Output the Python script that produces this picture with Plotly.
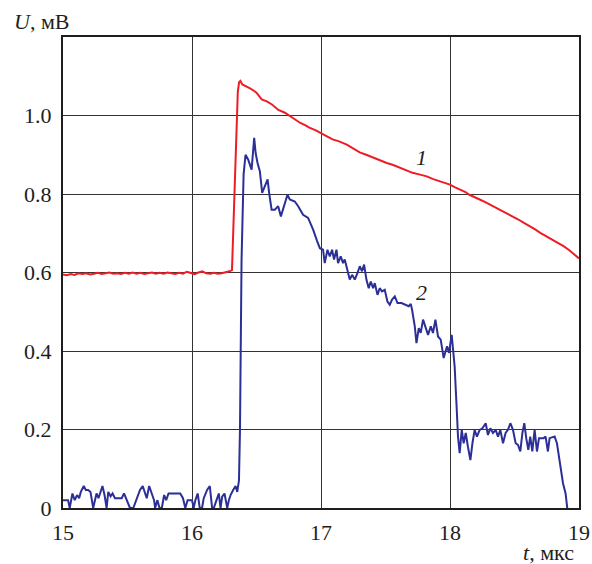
import plotly.graph_objects as go

# Curve 1 (red)
t1 = [15.00, 15.03, 15.06, 15.09, 15.12, 15.15, 15.18, 15.21, 15.24, 15.27, 15.30, 15.33, 15.36, 15.39,
      15.42, 15.45, 15.48, 15.51, 15.54, 15.57, 15.60, 15.63, 15.66, 15.69, 15.72, 15.75, 15.78, 15.81,
      15.84, 15.87, 15.90, 15.93, 15.96, 15.99, 16.02, 16.05, 16.08, 16.11, 16.14, 16.17, 16.20, 16.23,
      16.26, 16.29, 16.31, 16.325, 16.34, 16.355, 16.365, 16.375, 16.39, 16.42, 16.45, 16.48, 16.50,
      16.54, 16.58, 16.62, 16.67, 16.72, 16.76, 16.80, 16.84, 16.88, 16.91, 16.96, 17.00, 17.05, 17.09,
      17.14, 17.20, 17.25, 17.30, 17.35, 17.40, 17.45, 17.51, 17.56, 17.61, 17.66, 17.71, 17.76, 17.82,
      17.87, 17.92, 17.96, 18.00, 18.04, 18.08, 18.12, 18.15, 18.19, 18.23, 18.27, 18.31, 18.36, 18.40,
      18.44, 18.49, 18.53, 18.57, 18.62, 18.66, 18.70, 18.75, 18.79, 18.83, 18.88, 18.92, 18.95, 18.97, 19.00]
u1 = [0.595, 0.593, 0.596, 0.594, 0.598, 0.596, 0.598, 0.595, 0.597, 0.599, 0.596, 0.598, 0.600, 0.597,
      0.598, 0.596, 0.599, 0.597, 0.600, 0.597, 0.599, 0.596, 0.598, 0.600, 0.597, 0.599, 0.597, 0.600,
      0.598, 0.596, 0.599, 0.597, 0.602, 0.598, 0.596, 0.600, 0.603, 0.598, 0.597, 0.599, 0.597, 0.598,
      0.600, 0.603, 0.606, 0.750, 0.930, 1.060, 1.085, 1.088, 1.079, 1.075, 1.069, 1.063, 1.058,
      1.041, 1.036, 1.028, 1.014, 1.007, 0.998, 0.990, 0.981, 0.975, 0.969, 0.962, 0.954, 0.946, 0.939,
      0.934, 0.926, 0.916, 0.906, 0.900, 0.893, 0.888, 0.879, 0.874, 0.867, 0.860, 0.854, 0.850, 0.845,
      0.838, 0.832, 0.828, 0.824, 0.817, 0.811, 0.805, 0.798, 0.793, 0.786, 0.780, 0.773, 0.765, 0.759,
      0.751, 0.743, 0.735, 0.727, 0.718, 0.710, 0.701, 0.692, 0.684, 0.676, 0.667, 0.658, 0.650, 0.645, 0.636]

# Curve 2 (blue)
t2 = [15.000, 15.039, 15.052, 15.073, 15.091, 15.109, 15.125, 15.138, 15.161, 15.177, 15.195, 15.213,
      15.234, 15.260, 15.275, 15.291, 15.306, 15.322, 15.338, 15.351, 15.369, 15.384, 15.403, 15.421,
      15.455, 15.473, 15.494, 15.519, 15.545, 15.571, 15.597, 15.618, 15.636, 15.649, 15.668, 15.688,
      15.706, 15.714, 15.732, 15.748, 15.766, 15.784, 15.800, 15.818, 15.909, 15.930, 15.948, 15.966,
      16.000, 16.013, 16.026, 16.044, 16.060, 16.078, 16.091, 16.117, 16.138, 16.156, 16.169, 16.190,
      16.208, 16.221, 16.234, 16.252, 16.273, 16.286, 16.299, 16.319, 16.338, 16.351, 16.364,
      16.372, 16.378, 16.384, 16.400, 16.415, 16.435, 16.462, 16.482, 16.493, 16.508, 16.526, 16.544,
      16.565, 16.586, 16.598, 16.617, 16.642, 16.668, 16.689, 16.714, 16.740, 16.758, 16.797, 16.823,
      16.861, 16.900, 16.939, 16.970, 16.991, 17.016, 17.029, 17.050, 17.068, 17.086, 17.101, 17.120,
      17.132, 17.153, 17.171, 17.184, 17.205, 17.223, 17.241, 17.262, 17.283, 17.301, 17.318, 17.334,
      17.352, 17.370, 17.386, 17.404, 17.417, 17.438, 17.455, 17.473, 17.494, 17.515, 17.533, 17.551,
      17.572, 17.593, 17.624, 17.655, 17.680, 17.696, 17.706, 17.727, 17.740, 17.758, 17.773, 17.791,
      17.810, 17.830, 17.851, 17.868, 17.887, 17.907, 17.928, 17.951, 17.977, 17.992, 18.013, 18.023,
      18.036, 18.050, 18.062, 18.075, 18.091, 18.106, 18.122, 18.139, 18.158, 18.174, 18.191, 18.209,
      18.230, 18.251, 18.277, 18.294, 18.313, 18.333, 18.354, 18.372, 18.390, 18.411, 18.431, 18.449,
      18.468, 18.488, 18.509, 18.527, 18.545, 18.561, 18.576, 18.591, 18.607, 18.622, 18.638, 18.656,
      18.674, 18.690, 18.708, 18.726, 18.741, 18.759, 18.772, 18.811, 18.829, 18.850, 18.876, 18.896, 18.909]
u2 = [0.020, 0.020, 0.000, 0.037, 0.020, 0.033, 0.025, 0.041, 0.056, 0.046, 0.046, 0.041,
      0.000, 0.037, 0.025, 0.041, 0.056, 0.033, 0.000, 0.041, 0.030, 0.037, 0.025, 0.025,
      0.025, 0.037, 0.020, 0.000, 0.000, 0.025, 0.046, 0.056, 0.037, 0.025, 0.056, 0.037,
      0.020, 0.000, 0.020, 0.000, 0.000, 0.033, 0.020, 0.037, 0.037, 0.025, 0.000, 0.020,
      0.020, 0.000, 0.020, 0.037, 0.000, 0.000, 0.025, 0.046, 0.056, 0.000, 0.000, 0.020,
      0.037, 0.000, 0.029, 0.037, 0.000, 0.020, 0.033, 0.046, 0.056, 0.041, 0.070,
      0.200, 0.400, 0.630, 0.850, 0.900, 0.888, 0.862, 0.943, 0.905, 0.879, 0.858, 0.803,
      0.820, 0.837, 0.803, 0.760, 0.760, 0.769, 0.743, 0.769, 0.798, 0.786, 0.781, 0.769,
      0.747, 0.739, 0.709, 0.680, 0.662, 0.658, 0.624, 0.658, 0.641, 0.658, 0.633, 0.658,
      0.624, 0.641, 0.624, 0.633, 0.607, 0.582, 0.594, 0.582, 0.599, 0.616, 0.603, 0.620,
      0.582, 0.560, 0.577, 0.560, 0.573, 0.543, 0.560, 0.552, 0.556, 0.526, 0.518, 0.531,
      0.539, 0.522, 0.522, 0.518, 0.514, 0.520, 0.505, 0.463, 0.420, 0.458, 0.446, 0.480,
      0.458, 0.441, 0.463, 0.446, 0.480, 0.437, 0.429, 0.382, 0.412, 0.395, 0.441, 0.412,
      0.361, 0.267, 0.182, 0.140, 0.199, 0.165, 0.191, 0.156, 0.122, 0.165, 0.199, 0.182,
      0.199, 0.203, 0.216, 0.186, 0.203, 0.191, 0.199, 0.182, 0.199, 0.165, 0.191, 0.199,
      0.216, 0.199, 0.165, 0.161, 0.144, 0.191, 0.216, 0.178, 0.148, 0.182, 0.144, 0.199,
      0.144, 0.178, 0.178, 0.178, 0.182, 0.144, 0.178, 0.182, 0.165, 0.122, 0.063, 0.037, 0.000]

x_ticks = [15, 16, 17, 18, 19]
x_labels = ["15", "16", "17", "18", "19"]
y_ticks = [0, 0.2, 0.4, 0.6, 0.8, 1.0]
y_labels = ["0", "0.2", "0.4", "0.6", "0.8", "1.0"]

FONT = "Liberation Serif"
INK = "#1e1e1e"
FS = 22

fig = go.Figure()
fig.add_trace(go.Scatter(x=t1, y=u1, mode="lines", line=dict(color="#ee1c25", width=2), showlegend=False))
fig.add_trace(go.Scatter(x=t2, y=u2, mode="lines", line=dict(color="#2b2f96", width=2), showlegend=False))

axis_common = dict(showline=True, linecolor=INK, linewidth=2, mirror=True, automargin=False,
                   showgrid=True, gridcolor="#333333", gridwidth=1.2, zeroline=False,
                   ticks="outside", ticklen=0, tickwidth=0, tickcolor="rgba(0,0,0,0)",
                   tickfont=dict(family=FONT, size=FS, color=INK))

fig.update_xaxes(range=[15, 19], tickvals=x_ticks, ticktext=x_labels, ticklabelstandoff=4, **axis_common)
fig.update_yaxes(range=[0, 1.2], tickvals=y_ticks, ticktext=y_labels, ticklabelstandoff=5, **axis_common)

fig.add_annotation(text="<i>U</i>, мВ", xref="paper", yref="paper", x=-0.099, y=1.032,
                   xanchor="left", yanchor="middle", showarrow=False,
                   font=dict(family=FONT, size=FS, color=INK))
fig.add_annotation(text="<i>t</i>, мкс", xref="paper", yref="paper", x=0.994, y=-0.0955,
                   xanchor="right", yanchor="middle", showarrow=False,
                   font=dict(family=FONT, size=FS, color=INK))
fig.add_annotation(text="<i>1</i>", x=17.778, y=0.892, showarrow=False,
                   font=dict(family=FONT, size=FS, color=INK))
fig.add_annotation(text="<i>2</i>", x=17.778, y=0.548, showarrow=False,
                   font=dict(family=FONT, size=FS, color=INK))

fig.update_layout(width=592, height=564, margin=dict(l=63, r=13, t=37, b=56),
                  paper_bgcolor="white", plot_bgcolor="white",
                  font=dict(family=FONT, color=INK))

fig.write_html("out.html")
